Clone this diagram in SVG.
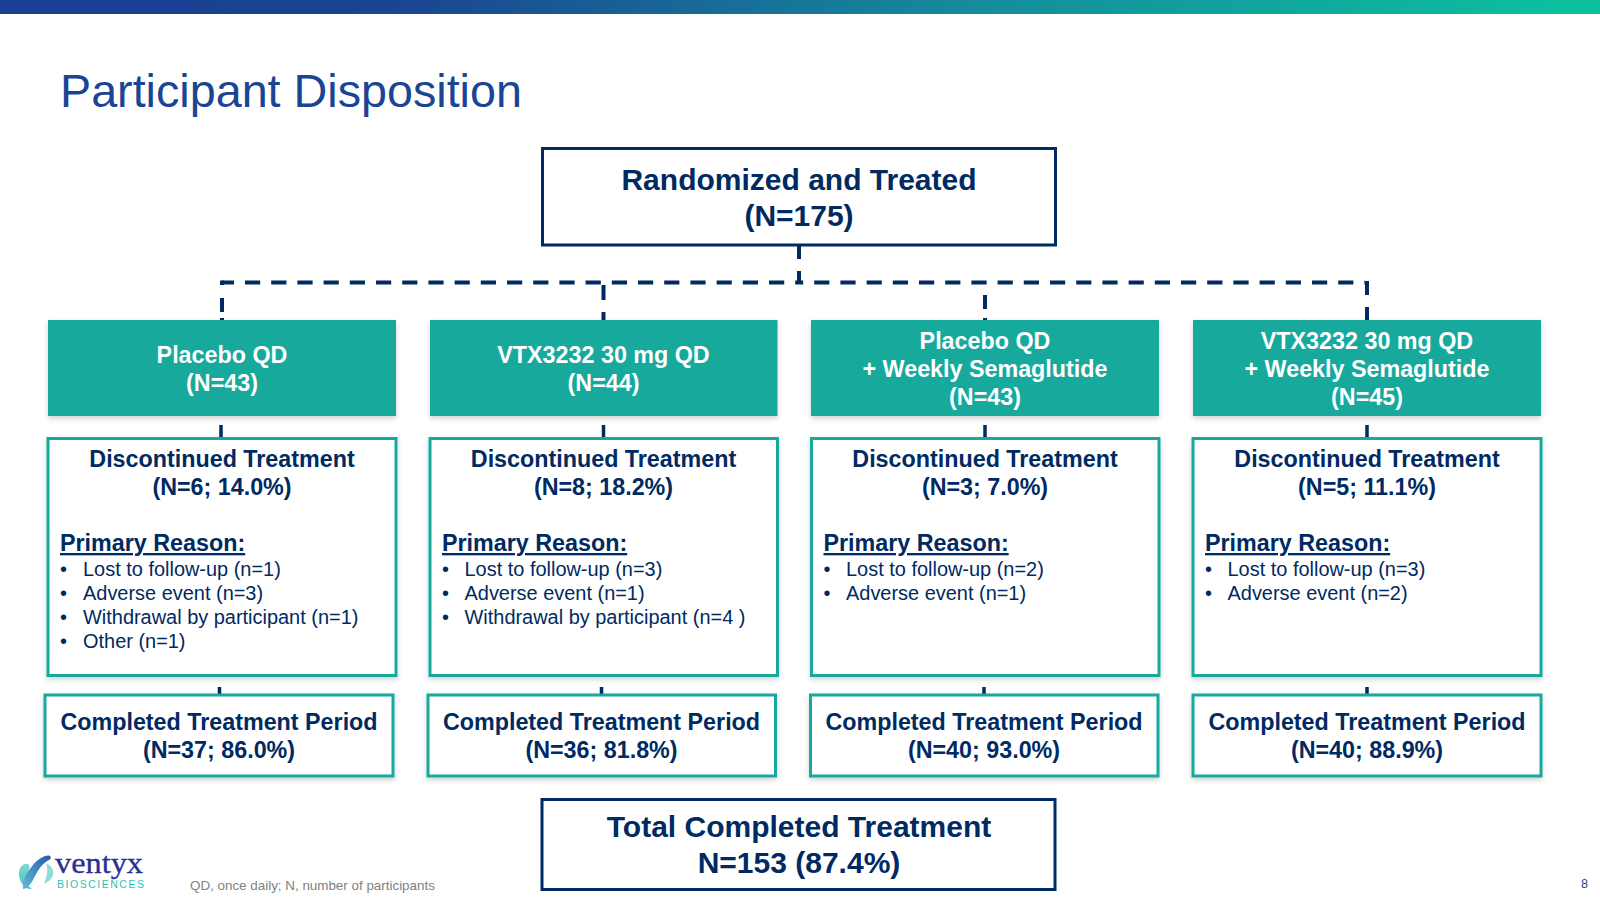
<svg xmlns="http://www.w3.org/2000/svg" width="1600" height="900" viewBox="0 0 1600 900">
<style>
text{font-family:"Liberation Sans",Arial,sans-serif}
.navy{fill:#002a62}
.b{font-weight:700}
.m{text-anchor:middle}
.h1{font-size:30px}
.h2{font-size:23.300px}
.wt{fill:#fff;font-weight:700;font-size:23.300px;text-anchor:middle}
.li{font-size:19.950px;fill:#002a62}
.u{font-size:23.300px;font-weight:700;fill:#002a62;text-decoration:underline}
.navybox{fill:#fff;stroke:#002a62;stroke-width:3}
.tealbox{fill:#fff;stroke:#13a99c;stroke-width:3;filter:url(#sh)}
.fill{fill:#17a99c;filter:url(#sh)}
.dash{fill:none;stroke:#002a62;stroke-width:4}
.stub{fill:none;stroke:#002a62;stroke-width:3.500}
</style>
<defs>
<linearGradient id="bar" x1="0" x2="1" y1="0" y2="0"><stop offset="0" stop-color="#1a3f94"/><stop offset=".25" stop-color="#1a4592"/><stop offset=".6" stop-color="#158a9c"/><stop offset=".97" stop-color="#0cbf9f"/><stop offset="1" stop-color="#0cbf9f"/></linearGradient>
<linearGradient id="lg" x1="0" x2="1" y1="1" y2="0"><stop offset="0" stop-color="#6ab4d8"/><stop offset=".55" stop-color="#3f86c0"/><stop offset="1" stop-color="#2f55a8"/></linearGradient>
<linearGradient id="lt" x1="0" x2="0" y1="0" y2="1"><stop offset="0" stop-color="#7fd8d4"/><stop offset="1" stop-color="#3fc4c0"/></linearGradient>
<filter id="sh" x="-5%" y="-5%" width="110%" height="115%"><feDropShadow dx="0" dy="2.500" stdDeviation="2.500" flood-color="#000" flood-opacity=".18"/></filter>
</defs>
<rect width="1600" height="900" fill="#fff"/>
<rect id="topbar" width="1600" height="14" fill="url(#bar)"/>
<text id="title" x="60" y="107" font-size="46.700" fill="#1a4595">Participant Disposition</text>

<g id="connectors">
<path class="dash" d="M222 282.500H799" stroke-dasharray="15.200 11" stroke-dashoffset="3.200"/>
<path class="dash" d="M799 282.500H1365" stroke-dasharray="15.200 11" stroke-dashoffset="11"/>
<path class="dash" d="M799 246V259M799 271V284"/>
<path class="dash" d="M222 280.500V285M222 298V312M222 318V320"/>
<path class="dash" d="M603.500 285V300M603.500 312V320"/>
<path class="dash" d="M985 295V309M985 318V320"/>
<path class="dash" d="M1367 281V295M1367 307V320"/>
<path class="stub" d="M221 425V437M603.500 425V437M985 425V437M1367 425V437M219.500 687V694M601.500 687V694M984 687V694M1367 687V694"/>
</g>

<g id="randomized"><rect class="navybox" x="542.500" y="148.500" width="513" height="96.500"/>
<text class="navy b m h1" x="799" y="190">Randomized and Treated</text><text class="navy b m h1" x="799" y="226">(N=175)</text></g>

<g id="arm1"><rect class="fill" x="48" y="320" width="348" height="96"/>
<text class="wt" x="222" y="363">Placebo QD</text><text class="wt" x="222" y="391">(N=43)</text></g>
<g id="arm2"><rect class="fill" x="430" y="320" width="347.500" height="96"/>
<text class="wt" x="603.500" y="363">VTX3232 30 mg QD</text><text class="wt" x="603.500" y="391">(N=44)</text></g>
<g id="arm3"><rect class="fill" x="811" y="320" width="348" height="96"/>
<text class="wt" x="985" y="349">Placebo QD</text><text class="wt" x="985" y="377">+ Weekly Semaglutide</text><text class="wt" x="985" y="405">(N=43)</text></g>
<g id="arm4"><rect class="fill" x="1193" y="320" width="348" height="96"/>
<text class="wt" x="1367" y="349">VTX3232 30 mg QD</text><text class="wt" x="1367" y="377">+ Weekly Semaglutide</text><text class="wt" x="1367" y="405">(N=45)</text></g>

<g id="disc1"><rect class="tealbox" x="48" y="438.500" width="348" height="237"/>
<text class="navy b m h2" x="222" y="467">Discontinued Treatment</text><text class="navy b m h2" x="222" y="495">(N=6; 14.0%)</text>
<text class="u" x="60" y="551">Primary Reason:</text>
<text class="li" x="60" y="575.500">•</text><text class="li" x="83" y="575.500">Lost to follow-up (n=1)</text>
<text class="li" x="60" y="599.500">•</text><text class="li" x="83" y="599.500">Adverse event (n=3)</text>
<text class="li" x="60" y="623.500">•</text><text class="li" x="83" y="623.500">Withdrawal by participant (n=1)</text>
<text class="li" x="60" y="647.500">•</text><text class="li" x="83" y="647.500">Other (n=1)</text></g>

<g id="disc2"><rect class="tealbox" x="430" y="438.500" width="347.500" height="237"/>
<text class="navy b m h2" x="603.500" y="467">Discontinued Treatment</text><text class="navy b m h2" x="603.500" y="495">(N=8; 18.2%)</text>
<text class="u" x="442" y="551">Primary Reason:</text>
<text class="li" x="442" y="575.500">•</text><text class="li" x="464.500" y="575.500">Lost to follow-up (n=3)</text>
<text class="li" x="442" y="599.500">•</text><text class="li" x="464.500" y="599.500">Adverse event (n=1)</text>
<text class="li" x="442" y="623.500">•</text><text class="li" x="464.500" y="623.500">Withdrawal by participant (n=4 )</text></g>

<g id="disc3"><rect class="tealbox" x="811.500" y="438.500" width="347.500" height="237"/>
<text class="navy b m h2" x="985" y="467">Discontinued Treatment</text><text class="navy b m h2" x="985" y="495">(N=3; 7.0%)</text>
<text class="u" x="823.500" y="551">Primary Reason:</text>
<text class="li" x="823.500" y="575.500">•</text><text class="li" x="846" y="575.500">Lost to follow-up (n=2)</text>
<text class="li" x="823.500" y="599.500">•</text><text class="li" x="846" y="599.500">Adverse event (n=1)</text></g>

<g id="disc4"><rect class="tealbox" x="1193" y="438.500" width="348" height="237"/>
<text class="navy b m h2" x="1367" y="467">Discontinued Treatment</text><text class="navy b m h2" x="1367" y="495">(N=5; 11.1%)</text>
<text class="u" x="1205" y="551">Primary Reason:</text>
<text class="li" x="1205" y="575.500">•</text><text class="li" x="1227.500" y="575.500">Lost to follow-up (n=3)</text>
<text class="li" x="1205" y="599.500">•</text><text class="li" x="1227.500" y="599.500">Adverse event (n=2)</text></g>

<g id="comp1"><rect class="tealbox" x="45" y="695" width="348" height="81"/>
<text class="navy b m h2" x="219" y="730">Completed Treatment Period</text><text class="navy b m h2" x="219" y="758">(N=37; 86.0%)</text></g>
<g id="comp2"><rect class="tealbox" x="428" y="695" width="347.500" height="81"/>
<text class="navy b m h2" x="601.500" y="730">Completed Treatment Period</text><text class="navy b m h2" x="601.500" y="758">(N=36; 81.8%)</text></g>
<g id="comp3"><rect class="tealbox" x="810.500" y="695" width="347.500" height="81"/>
<text class="navy b m h2" x="984" y="730">Completed Treatment Period</text><text class="navy b m h2" x="984" y="758">(N=40; 93.0%)</text></g>
<g id="comp4"><rect class="tealbox" x="1193" y="695" width="348" height="81"/>
<text class="navy b m h2" x="1367" y="730">Completed Treatment Period</text><text class="navy b m h2" x="1367" y="758">(N=40; 88.9%)</text></g>

<g id="total"><rect class="navybox" x="542" y="799.500" width="513" height="90"/>
<text class="navy b m h1" x="799" y="837">Total Completed Treatment</text><text class="navy b m h1" x="799" y="873">N=153 (87.4%)</text></g>

<g id="logo">
<path d="M19 872C20 865 26 862 29 865C31 868 26 874 26 879C26 884 29 887 32 889C25 890 18 881 19 872Z" fill="url(#lt)"/>
<path d="M23 889C22 880 27 872 33 865C38 859 46 854 50 856C52 858 50 860 47 861C41 865 37 872 34 878C31 884 27 889 23 889Z" fill="url(#lg)"/>
<path d="M46 864C51 864 54 870 53 875C52 880 47 882 44 884C46 878 49 871 46 864Z" fill="#8fdcd8"/>
<text x="55" y="873" font-size="29" fill="#2a3092" stroke="#2a3092" stroke-width=".300" style="font-family:'Liberation Serif',serif" textLength="88" lengthAdjust="spacingAndGlyphs">ventyx</text>
<text x="57" y="888" font-size="10.500" fill="#2fc1b0" textLength="87">BIOSCIENCES</text>
</g>
<text id="footnote" x="190" y="890" font-size="13.400" fill="#808080">QD, once daily; N, number of participants</text>
<text id="page" x="1581" y="888" font-size="12.500" fill="#1a4595">8</text>
</svg>
